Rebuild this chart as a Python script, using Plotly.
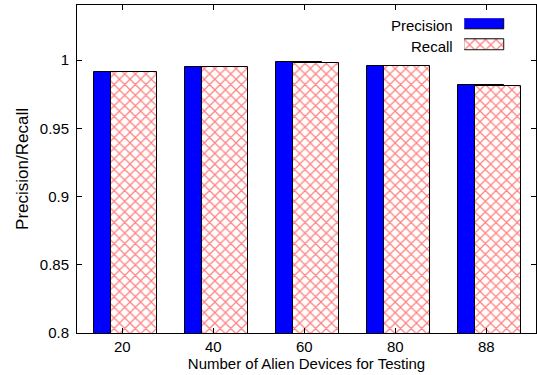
import plotly.graph_objects as go

# Alien device counts used for testing
device_counts = ["20", "40", "60", "80", "88"]
precision = [0.9917, 0.9954, 0.9985, 0.9960, 0.9815]
recall = [0.9912, 0.9949, 0.9980, 0.9956, 0.9810]

positions = list(range(len(device_counts)))
FONT = "Liberation Sans, Arial, Helvetica, sans-serif"
BAR_W = 0.5
HATCH = dict(shape="x", fgcolor="#ff0000", bgcolor="#ffffff", size=7.5, solidity=0.3)

fig = go.Figure()

fig.add_trace(go.Bar(
    x=positions, y=precision, base=0, width=BAR_W, offset=-0.056 - BAR_W / 2,
    marker=dict(color="#0000ff", line=dict(color="#000000", width=1)),
    name="Precision", showlegend=False,
))
fig.add_trace(go.Bar(
    x=positions, y=recall, base=0, width=BAR_W, offset=0.131 - BAR_W / 2,
    marker=dict(color="#ffffff", pattern=HATCH, line=dict(color="#000000", width=1)),
    name="Recall", showlegend=False,
))

# key swatches on a small auxiliary axis (text sits left of the sample box)
fig.add_trace(go.Bar(
    x=[1], y=[0.835], base=0, width=0.33, orientation="h",
    marker=dict(color="#0000ff", line=dict(color="#000000", width=1)),
    xaxis="x2", yaxis="y2", showlegend=False, hoverinfo="skip",
))
fig.add_trace(go.Bar(
    x=[1], y=[0.175], base=0, width=0.35, orientation="h",
    marker=dict(color="#ffffff", pattern=HATCH, line=dict(color="#000000", width=1)),
    xaxis="x2", yaxis="y2", showlegend=False, hoverinfo="skip",
))

axis_common = dict(
    showline=True, linecolor="#000000", linewidth=1, mirror="ticks",
    ticks="inside", ticklen=5, tickcolor="#000000", tickwidth=1,
    showgrid=False, zeroline=False,
    tickfont=dict(family=FONT, size=15, color="#000000"),
)

fig.update_layout(
    width=537, height=375,
    margin=dict(l=77, r=1, t=5, b=42),
    paper_bgcolor="#ffffff", plot_bgcolor="#ffffff",
    barmode="overlay", bargap=0,
    font=dict(family=FONT, color="#000000"),
    xaxis=dict(
        **axis_common,
        range=[-0.498, 4.546],
        tickvals=positions, ticktext=device_counts,
        ticklabelstandoff=0,
        title=dict(text="Number of Alien Devices for Testing",
                   font=dict(family=FONT, size=15, color="#000000"), standoff=0),
    ),
    yaxis=dict(
        **axis_common,
        range=[0.8, 1.0405],
        tickvals=[0.8, 0.85, 0.9, 0.95, 1.0],
        ticktext=["0.8", "0.85", "0.9", "0.95", "1"],
        ticklabelstandoff=4,
        title=dict(text="Precision/Recall",
                   font=dict(family=FONT, size=17, color="#000000"), standoff=6),
    ),
    xaxis2=dict(domain=[0.8438, 0.9318], range=[0, 1], visible=False,
                anchor="y2", fixedrange=True),
    yaxis2=dict(domain=[0.8607, 0.9595], range=[0, 1], visible=False,
                anchor="x2", fixedrange=True),
    annotations=[
        dict(text="Precision", xref="paper", yref="paper", x=0.8229, y=0.937,
             xanchor="right", yanchor="middle", showarrow=False,
             font=dict(family=FONT, size=15, color="#000000")),
        dict(text="Recall", xref="paper", yref="paper", x=0.8229, y=0.873,
             xanchor="right", yanchor="middle", showarrow=False,
             font=dict(family=FONT, size=15, color="#000000")),
    ],
)

fig.write_html("out.html")
